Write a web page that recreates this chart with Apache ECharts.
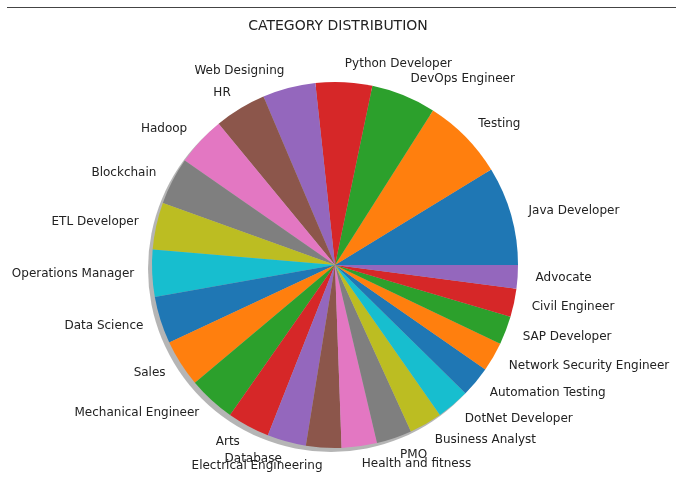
<!DOCTYPE html>
<html><head><meta charset="utf-8">
<script src="https://cdn.jsdelivr.net/npm/echarts@6/dist/echarts.min.js"></script>
<style>html,body{margin:0;padding:0;background:#fff}#c{width:676px;height:498px}
#line{position:absolute;left:7px;top:7px;width:669px;height:1px;background:#444}</style>
</head><body><div id="line"></div><div id="c"></div>
<script>
const categories = ["Java Developer","Testing","DevOps Engineer","Python Developer","Web Designing","HR","Hadoop","Blockchain","ETL Developer","Operations Manager","Data Science","Sales","Mechanical Engineer","Arts","Database","Electrical Engineering","Health and fitness","PMO","Business Analyst","DotNet Developer","Automation Testing","Network Security Engineer","SAP Developer","Civil Engineer","Advocate"];
const counts = [84,70,55,48,45,44,42,40,40,40,40,40,40,36,33,30,30,30,28,28,26,25,24,24,20];
const palette = ["#1f77b4","#ff7f0e","#2ca02c","#d62728","#9467bd","#8c564b","#e377c2","#7f7f7f","#bcbd22","#17becf"];
const chart = echarts.init(document.getElementById('c'));
const R = 183, CX = 335, CY = 265;
chart.setOption({
  animation:false,
  title:{text:'CATEGORY DISTRIBUTION',left:'center',top:14,textStyle:{fontFamily:'DejaVu Sans',fontSize:14,fontWeight:'normal',color:'#222'}},
  series:[
    {type:'pie',silent:true,center:[CX-4,CY+4],radius:R,label:{show:false},labelLine:{show:false},
     data:[{value:1,itemStyle:{color:'rgba(70,70,70,0.4)'}}]},
    {type:'pie',center:[CX,CY],radius:R,startAngle:0,clockwise:false,avoidLabelOverlap:false,
     color:palette,
     labelLayout:{hideOverlap:false},
     label:{position:'outside',fontFamily:'DejaVu Sans',fontSize:12,color:'#222',distanceToLabelLine:0},
     labelLine:{show:false,length:18,length2:0},
     itemStyle:{borderWidth:0},
     data:categories.map((c,i)=>({name:c,value:counts[i]}))}
  ]
});
</script></body></html>
